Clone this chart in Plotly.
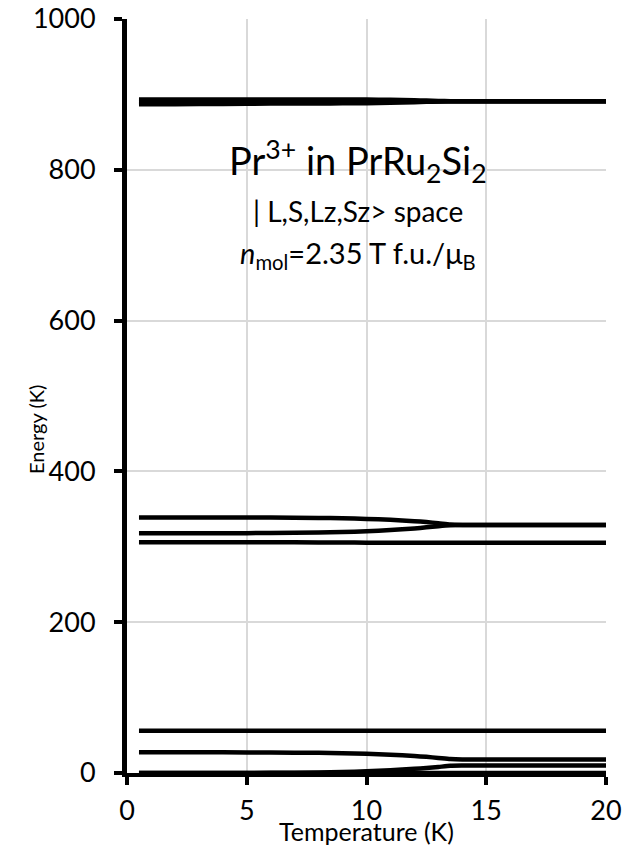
import plotly.graph_objects as go

# Temperature grid (K) for the energy levels
T = [0.5, 2, 4, 6, 8, 9, 10, 11, 12, 12.5, 13, 13.5, 14, 15, 17, 20]

# Low-lying multiplet (K)
E_low_0 = [0, 0, 0, 0, 0, 0, 0, 0, 0, 0, 0, 0, 0, 0, 0, 0]
E_low_1 = [0, 0, 0, 0.2, 0.8, 1.3, 2.2, 3.6, 5.5, 6.6, 8, 9.5, 9.8, 9.8, 9.8, 9.8]
E_low_2 = [27.5, 27.5, 27.4, 27.2, 26.7, 26.2, 25.4, 24.2, 22.5, 21.4, 20, 18.5, 18, 18, 18, 18]
E_low_3 = [56, 56, 56, 56, 56, 56, 56, 56, 56, 56, 56, 56, 56, 56, 56, 56]

# Middle multiplet (K)
E_mid_1 = [339, 339, 339, 338.8, 338.3, 337.8, 337, 335.8, 334, 332.8, 331.3, 329.5, 329, 328.8, 328.8, 328.8]
E_mid_2 = [318, 318, 318, 318.3, 319, 319.6, 320.6, 322.2, 324.4, 325.8, 327.4, 328.6, 328.8, 328.8, 328.8, 328.8]
E_mid_3 = [306, 306, 306, 306, 305.8, 305.6, 305.5, 305.4, 305.3, 305.3, 305.3, 305.3, 305.3, 305.3, 305.3, 305.3]

# Upper multiplet (K)
E_up_1 = [893.3, 893.3, 893.3, 893.3, 893.3, 893.2, 893.1, 892.8, 892.2, 891.8, 891.4, 891, 890.8, 890.8, 890.8, 890.8]
E_up_2 = [890, 890, 890, 890, 890, 890.1, 890.2, 890.3, 890.5, 890.6, 890.7, 890.8, 890.8, 890.8, 890.8, 890.8]
E_up_3 = [887, 887, 887.3, 887.8, 888, 888.1, 888.3, 888.8, 889.6, 890.1, 890.6, 890.8, 890.8, 890.8, 890.8, 890.8]

levels = [E_low_0, E_low_1, E_low_2, E_low_3,
          E_mid_1, E_mid_2, E_mid_3,
          E_up_1, E_up_2, E_up_3]

x_ticks = [0, 5, 10, 15, 20]
y_ticks = [0, 200, 400, 600, 800, 1000]

FONT = "Lato"

fig = go.Figure()
for E in levels:
    fig.add_trace(go.Scatter(x=T, y=E, mode="lines",
                             line=dict(color="black", width=4.5, shape="spline", smoothing=0.6),
                             showlegend=False, hoverinfo="skip"))

fig.update_layout(
    width=643, height=851,
    margin=dict(l=127, r=37, t=19, b=78, autoexpand=False),
    paper_bgcolor="white", plot_bgcolor="white",
    font=dict(family=FONT, color="black"),
    xaxis=dict(range=[0, 20], tickvals=x_ticks, showgrid=True, gridcolor="#d9d9d9", gridwidth=1.5,
               showline=True, linecolor="black", linewidth=4, ticks="outside", ticklen=8,
               tickwidth=4, tickcolor="black", tickfont=dict(size=27, family=FONT),
               zeroline=False, mirror=False, automargin=False, ticklabelstandoff=3),
    yaxis=dict(range=[0, 1000], tickvals=y_ticks, showgrid=True, gridcolor="#d9d9d9", gridwidth=1.5,
               showline=True, linecolor="black", linewidth=5, ticks="outside", ticklen=8,
               tickwidth=4, tickcolor="black", tickfont=dict(size=27, family=FONT),
               zeroline=False, automargin=False, ticklabelstandoff=13),
    annotations=[
        dict(text="Temperature (K)", xref="paper", yref="paper", x=0.5, y=0, yshift=-58,
             showarrow=False, font=dict(size=25, family=FONT), yanchor="middle"),
        dict(text="Energy (K)", xref="paper", yref="paper", x=0, xshift=-91, y=0.455,
             textangle=-90, showarrow=False, font=dict(size=20, family=FONT), xanchor="center"),
        dict(text="Pr<sup>3+</sup> in PrRu<sub>2</sub>Si<sub>2</sub>", xref="x", yref="y",
             x=9.63, y=812, showarrow=False, font=dict(size=38, family=FONT)),
        dict(text="| L,S,Lz,Sz> space", xref="x", yref="y",
             x=9.63, y=745, showarrow=False, font=dict(size=28, family=FONT)),
        dict(text="<i>n</i><sub>mol</sub>=2.35 T f.u./μ<sub>B</sub>", xref="x", yref="y",
             x=9.63, y=688, showarrow=False, font=dict(size=29, family=FONT)),
    ],
)

fig.write_html("out.html")
